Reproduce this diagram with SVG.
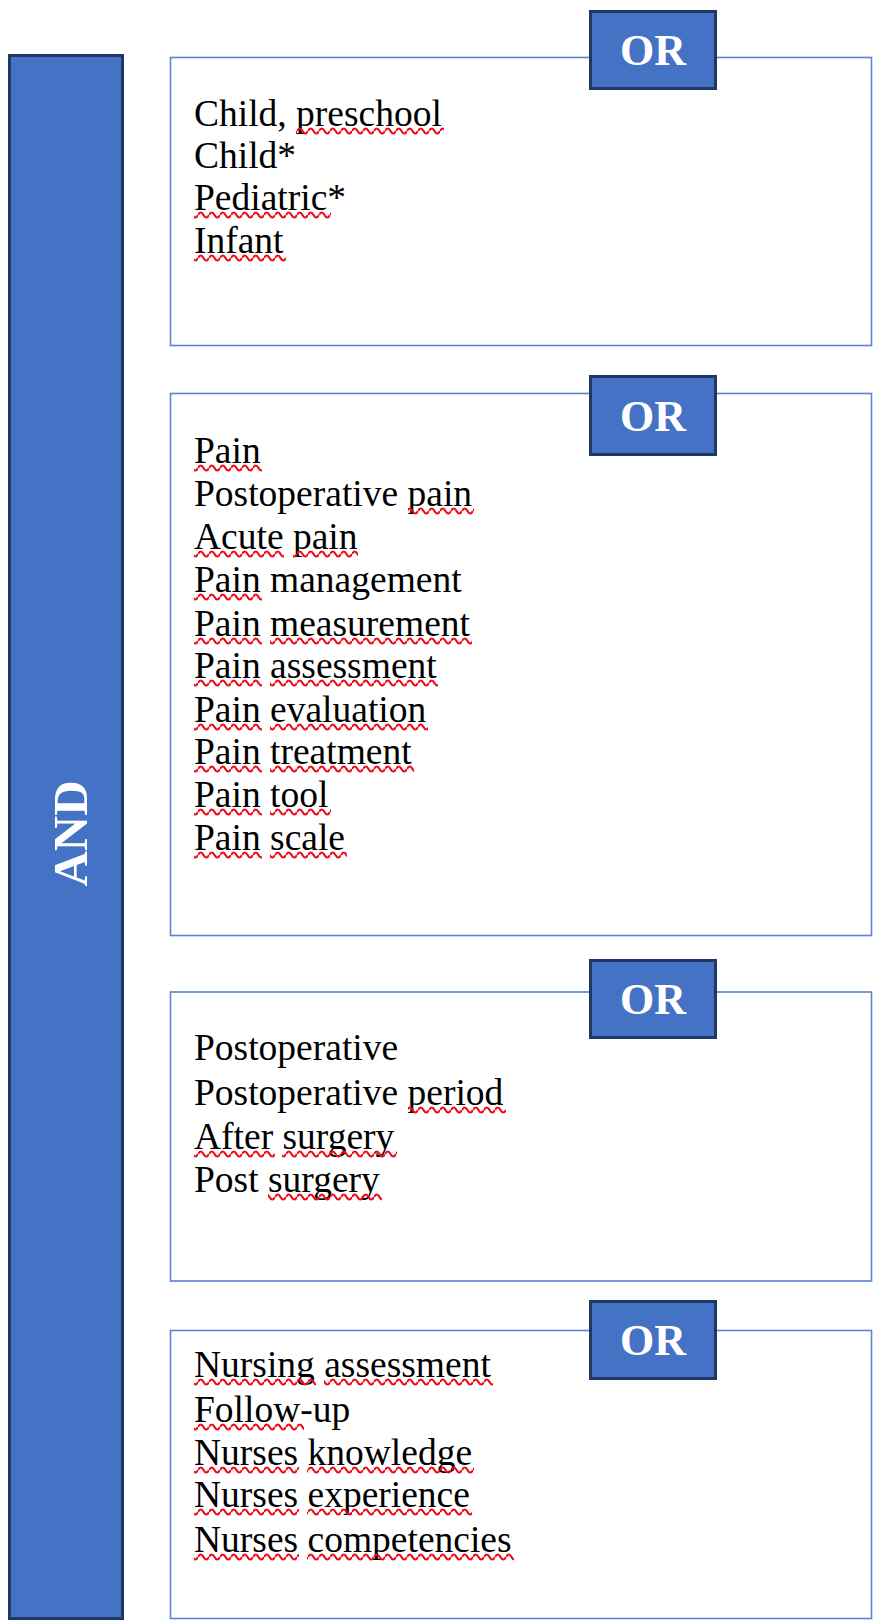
<svg xmlns="http://www.w3.org/2000/svg" width="874" height="1623" viewBox="0 0 874 1623">
<style>
.bar{fill:#4472C4;stroke:#1F3864;stroke-width:3}
.box{fill:#fff;stroke:#5B83CE;stroke-width:1.6}
.orbox{fill:#4472C4;stroke:#1F3864;stroke-width:3}
.ortxt{font-family:"Liberation Serif","Times New Roman",serif;font-weight:bold;font-size:44px;fill:#fff;text-anchor:middle}
.andtxt{font-family:"Liberation Serif","Times New Roman",serif;font-weight:bold;font-size:49px;fill:#fff;text-anchor:middle}
.t{font-family:"Liberation Serif","Times New Roman",serif;font-size:37.5px;fill:#000}
.sq{fill:url(#sq)}
</style>
<defs>
<pattern id="sq" patternUnits="userSpaceOnUse" width="11" height="10">
<path d="M0,5 Q2.75,0 5.5,5 T11,5" fill="none" stroke="#EE0A18" stroke-width="2.2"/>
</pattern>
</defs>
<rect width="874" height="1623" fill="#fff"/>

<g id="and">
<rect class="bar" x="9.5" y="55.5" width="113" height="1563"/>
<text class="andtxt" transform="translate(87,833.5) rotate(-90)">AND</text>
</g>

<g id="group1">
<rect class="box" x="170.5" y="57.5" width="701" height="288"/>
<text class="t" x="194" y="126">Child, preschool</text>
<text class="t" x="194" y="168">Child*</text>
<text class="t" x="194" y="210">Pediatric*</text>
<text class="t" x="194" y="253">Infant</text>
<rect class="sq" x="296" y="0" width="148" height="10" transform="translate(0,126)"/>
<rect class="sq" x="194" y="0" width="137" height="10" transform="translate(0,210)"/>
<rect class="sq" x="194" y="0" width="92" height="10" transform="translate(0,253)"/>
<rect class="orbox" x="590.5" y="11.5" width="125" height="77"/>
<text class="ortxt" x="653" y="65">OR</text>
</g>

<g id="group2">
<rect class="box" x="170.5" y="393.5" width="701" height="542"/>
<text class="t" x="194" y="463">Pain</text>
<text class="t" x="194" y="506">Postoperative pain</text>
<text class="t" x="194" y="549">Acute pain</text>
<text class="t" x="194" y="592">Pain management</text>
<text class="t" x="194" y="636">Pain measurement</text>
<text class="t" x="194" y="678">Pain assessment</text>
<text class="t" x="194" y="722">Pain evaluation</text>
<text class="t" x="194" y="764">Pain treatment</text>
<text class="t" x="194" y="807">Pain tool</text>
<text class="t" x="194" y="850">Pain scale</text>
<rect class="sq" x="194" y="0" width="68" height="10" transform="translate(0,463)"/>
<rect class="sq" x="408" y="0" width="66" height="10" transform="translate(0,506)"/>
<rect class="sq" x="194" y="0" width="90" height="10" transform="translate(0,549)"/>
<rect class="sq" x="293" y="0" width="65" height="10" transform="translate(0,549)"/>
<rect class="sq" x="194" y="0" width="68" height="10" transform="translate(0,592)"/>
<rect class="sq" x="194" y="0" width="68" height="10" transform="translate(0,636)"/>
<rect class="sq" x="270" y="0" width="202" height="10" transform="translate(0,636)"/>
<rect class="sq" x="194" y="0" width="68" height="10" transform="translate(0,678)"/>
<rect class="sq" x="270" y="0" width="168" height="10" transform="translate(0,678)"/>
<rect class="sq" x="194" y="0" width="68" height="10" transform="translate(0,722)"/>
<rect class="sq" x="270" y="0" width="158" height="10" transform="translate(0,722)"/>
<rect class="sq" x="194" y="0" width="68" height="10" transform="translate(0,764)"/>
<rect class="sq" x="270" y="0" width="144" height="10" transform="translate(0,764)"/>
<rect class="sq" x="194" y="0" width="68" height="10" transform="translate(0,807)"/>
<rect class="sq" x="270" y="0" width="61" height="10" transform="translate(0,807)"/>
<rect class="sq" x="194" y="0" width="68" height="10" transform="translate(0,850)"/>
<rect class="sq" x="270" y="0" width="77" height="10" transform="translate(0,850)"/>
<rect class="orbox" x="590.5" y="376.5" width="125" height="78"/>
<text class="ortxt" x="653" y="430.5">OR</text>
</g>

<g id="group3">
<rect class="box" x="170.5" y="992" width="701" height="289"/>
<text class="t" x="194" y="1060">Postoperative</text>
<text class="t" x="194" y="1105">Postoperative period</text>
<text class="t" x="194" y="1149">After surgery</text>
<text class="t" x="194" y="1192">Post surgery</text>
<rect class="sq" x="408" y="0" width="98" height="10" transform="translate(0,1105)"/>
<rect class="sq" x="194" y="0" width="81" height="10" transform="translate(0,1149)"/>
<rect class="sq" x="282" y="0" width="115" height="10" transform="translate(0,1149)"/>
<rect class="sq" x="268" y="0" width="114" height="10" transform="translate(0,1192)"/>
<rect class="orbox" x="590.5" y="960.5" width="125" height="77"/>
<text class="ortxt" x="653" y="1014">OR</text>
</g>

<g id="group4">
<rect class="box" x="170.5" y="1330.5" width="701" height="288"/>
<text class="t" x="194" y="1377">Nursing assessment</text>
<text class="t" x="194" y="1422">Follow-up</text>
<text class="t" x="194" y="1465">Nurses knowledge</text>
<text class="t" x="194" y="1507">Nurses experience</text>
<text class="t" x="194" y="1552">Nurses competencies</text>
<rect class="sq" x="194" y="0" width="122" height="10" transform="translate(0,1377)"/>
<rect class="sq" x="324" y="0" width="169" height="10" transform="translate(0,1377)"/>
<rect class="sq" x="194" y="0" width="110" height="10" transform="translate(0,1422)"/>
<rect class="sq" x="194" y="0" width="105" height="10" transform="translate(0,1465)"/>
<rect class="sq" x="307" y="0" width="167" height="10" transform="translate(0,1465)"/>
<rect class="sq" x="194" y="0" width="105" height="10" transform="translate(0,1507)"/>
<rect class="sq" x="307" y="0" width="165" height="10" transform="translate(0,1507)"/>
<rect class="sq" x="194" y="0" width="105" height="10" transform="translate(0,1552)"/>
<rect class="sq" x="307" y="0" width="207" height="10" transform="translate(0,1552)"/>
<rect class="orbox" x="590.5" y="1301.5" width="125" height="77"/>
<text class="ortxt" x="653" y="1355">OR</text>
</g>
</svg>
